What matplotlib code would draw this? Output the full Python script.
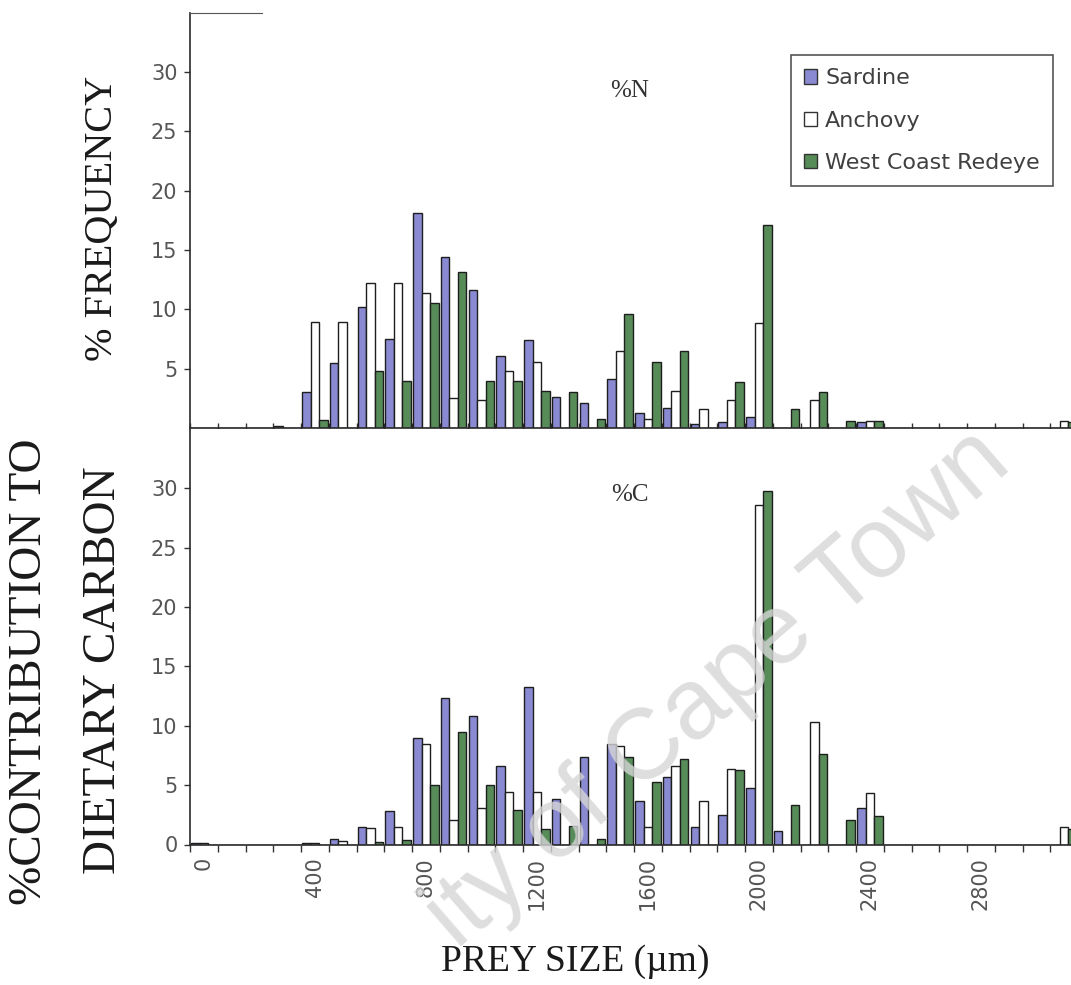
import numpy as np
import matplotlib.pyplot as plt
from matplotlib.patches import Patch

# === Prey size classes (um) ===
sizes = list(range(0, 3200, 100))

# === %N : frequency of prey in each size class ===
sardine_n = [0, 0, 0, 0.2, 3.0, 5.5, 10.2, 7.5, 18.1, 14.4, 11.6, 6.1, 7.4, 2.6, 2.1, 4.1,
             1.3, 1.7, 0.3, 0.5, 0.9, 0, 0, 0, 0.5, 0, 0, 0, 0, 0, 0, 0]
anchovy_n = [0, 0, 0, 0, 8.9, 8.9, 12.2, 12.2, 11.4, 2.5, 2.4, 4.8, 5.6, 0, 0, 6.5,
             0.8, 3.1, 1.6, 2.4, 8.85, 0, 2.4, 0, 0.6, 0, 0, 0, 0, 0, 0, 0.6]
redeye_n = [0, 0, 0, 0, 0.7, 0, 4.8, 4.0, 10.5, 13.1, 4.0, 4.0, 3.1, 3.0, 0.8, 9.6,
            5.6, 6.5, 0, 3.85, 17.1, 1.6, 3.0, 0.6, 0.6, 0, 0, 0, 0, 0, 0, 0.5]

# === %C : contribution to dietary carbon ===
sardine_c = [0.15, 0, 0, 0, 0.15, 0.45, 1.5, 2.8, 9.0, 12.3, 10.8, 6.6, 13.3, 3.85, 7.4, 8.5,
             3.65, 5.7, 1.5, 2.5, 4.8, 1.1, 0, 0, 3.1, 0, 0, 0, 0, 0, 0, 0]
anchovy_c = [0.15, 0, 0, 0, 0.15, 0.3, 1.4, 1.5, 8.5, 2.1, 3.1, 4.4, 4.4, 0, 0, 8.3,
             1.5, 6.6, 3.7, 6.4, 28.6, 0, 10.3, 0, 4.3, 0, 0, 0, 0, 0, 0, 1.45]
redeye_c = [0, 0, 0, 0, 0, 0, 0.2, 0.4, 5.0, 9.5, 5.0, 2.9, 1.3, 1.6, 0.45, 7.4,
            5.3, 7.2, 0, 6.3, 29.8, 3.3, 7.6, 2.1, 2.4, 0, 0, 0, 0, 0, 0, 1.3]

species = ["Sardine", "Anchovy", "West Coast Redeye"]
colors = ["#8a8ad2", "#ffffff", "#578c59"]

# === Figure ===
W, H = 1071, 985
fig = plt.figure(figsize=(W / 100, H / 100), dpi=100)


def px_axes(left, top, right, bottom):
    return fig.add_axes([left / W, 1 - bottom / H, (right - left) / W, (bottom - top) / H])


ax_n = px_axes(190, 12.5, 1078, 428)
ax_c = px_axes(190, 429, 1078, 844.5)

x = np.arange(len(sizes))
bw = 0.306
tick_kw = dict(labelsize=15, labelcolor="#555555", color="#333333", width=1.0)

for ax, series in [(ax_n, [sardine_n, anchovy_n, redeye_n]),
                   (ax_c, [sardine_c, anchovy_c, redeye_c])]:
    for i, (vals, col) in enumerate(zip(series, colors)):
        ax.bar(x + (i - 1) * bw, vals, bw, color=col, edgecolor="#1e1e1e", linewidth=1.0, zorder=2)
    ax.set_xlim(-0.5, len(sizes) - 0.5)
    ax.set_ylim(0, 35)
    ax.set_xticks(np.arange(-0.5, len(sizes), 1), minor=True)
    ax.spines["right"].set_visible(False)
    for s in ["left", "bottom"]:
        ax.spines[s].set_color("#2a2a2a")
        ax.spines[s].set_linewidth(1.2)
    ax.tick_params(axis="y", direction="out", length=4, pad=5, **tick_kw)

# top panel
ax_n.set_yticks([5, 10, 15, 20, 25, 30])
ax_n.set_xticks([])
ax_n.tick_params(axis="x", which="minor", direction="inout", length=7, width=1.0, color="#333333")
ax_n.spines["top"].set_bounds(-0.5, 2.1)
ax_n.spines["top"].set_color("#555555")
ax_n.text(0.495, 0.81, "%N", transform=ax_n.transAxes, ha="center", va="center",
          family="Liberation Serif", fontsize=18, color="#333333")

# bottom panel
ax_c.spines["top"].set_visible(False)
ax_c.set_yticks([0, 5, 10, 15, 20, 25, 30])
major = list(range(0, len(sizes), 4))
ax_c.set_xticks(major)
ax_c.set_xticklabels([str(sizes[i]) for i in major], rotation=90)
ax_c.tick_params(axis="x", which="major", length=0, pad=9, **tick_kw)
ax_c.tick_params(axis="x", which="minor", direction="out", length=5, width=1.0, color="#333333")
ax_c.text(0.495, 0.84, "%C", transform=ax_c.transAxes, ha="center", va="center",
          family="Liberation Serif", fontsize=18, color="#333333")

# === Axis titles ===
serif = dict(family="Liberation Serif", color="#1a1a1a", ha="center", va="center")
fig.text(103 / W, 1 - 218 / H, "% FREQUENCY", rotation=90, fontsize=29, **serif)
fig.text(30 / W, 1 - 672 / H, "%CONTRIBUTION TO", rotation=90, fontsize=34, **serif)
fig.text(104 / W, 1 - 670 / H, "DIETARY CARBON", rotation=90, fontsize=34, **serif)
fig.text(575 / W, 1 - 962 / H, "PREY SIZE (\u00b5m)", fontsize=27, **serif)

# === Legend ===
handles = [Patch(facecolor=c, edgecolor="#333333", label=s) for s, c in zip(species, colors)]
leg = ax_n.legend(handles=handles, loc="upper right", bbox_to_anchor=(1053 / W, 1 - 55 / H),
                  bbox_transform=fig.transFigure, borderaxespad=0, fontsize=16,
                  handlelength=0.6, handleheight=0.6, handletextpad=0.35, borderpad=0.6,
                  labelspacing=1.0, fancybox=False, framealpha=1)
leg.get_frame().set_edgecolor("#555555")
leg.get_frame().set_linewidth(1.2)
for t in leg.get_texts():
    t.set_color("#404040")

# === Watermark (only the part that lies on the page) ===
fig.text(718 / W, 1 - 690 / H, "ity of Cape Town", rotation=41, rotation_mode="anchor",
         ha="center", va="center", family="Liberation Sans", fontsize=72,
         color="#d6d6d6", alpha=0.8, zorder=10)

fig.savefig("out.png", dpi=100)
